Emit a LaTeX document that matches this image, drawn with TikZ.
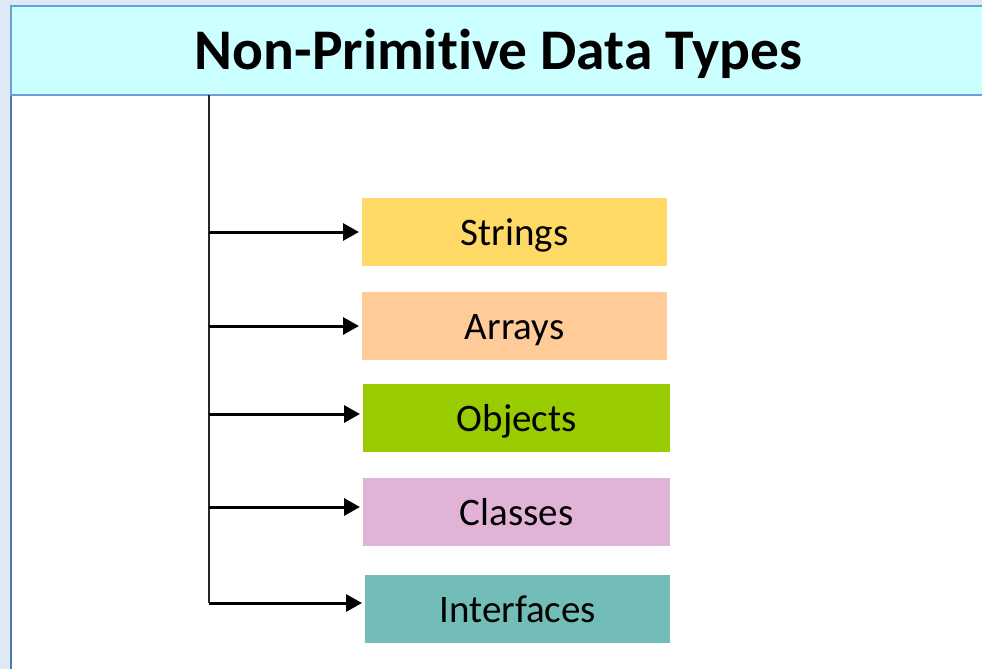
\documentclass[tikz,border=0pt]{standalone}
\usepackage{fontspec}
\setmainfont[Ligatures=NoCommon]{Carlito}
\usetikzlibrary{arrows.meta}
\definecolor{bgblue}{HTML}{DEE9F5}
\definecolor{edgeblue}{HTML}{4E79A8}
\definecolor{headfill}{HTML}{CCFFFF}
\definecolor{headedge}{HTML}{6A9FD8}
\definecolor{cstr}{HTML}{FFD966}
\definecolor{carr}{HTML}{FFCC99}
\definecolor{cobj}{HTML}{99CC00}
\definecolor{ccls}{HTML}{E1B3D6}
\definecolor{cint}{HTML}{73BDB9}
\tikzset{
  typebox/.style={draw=none, minimum height=68pt, inner sep=0pt, anchor=north west,
    text height=26.4pt, text depth=0pt,
    font=\fontsize{39}{44}\selectfont},
  arr/.style={line width=3pt, -{Triangle[length=16pt,width=17pt]}, shorten >=3pt},
  trunk/.style={line width=2pt, black!85}
}
\begin{document}
\begin{tikzpicture}[x=1pt,y=-1pt]
\useasboundingbox (0,0) rectangle (982,669);
\fill[bgblue] (0,0) rectangle (982,669);
\fill[white] (11,95) rectangle (982,669);
\draw[edgeblue, line width=2pt] (11,95) -- (11,669);
\node[draw=headedge, fill=headfill, line width=2pt, minimum width=975pt, minimum height=89pt,
  inner sep=0pt, anchor=north west, text height=40pt, text depth=2.4pt,
  font=\fontsize{57.5}{62}\selectfont\bfseries] (head) at (10,5) {Non-Primitive Data Types};
\node[typebox, fill=cstr, minimum width=305pt] (s) at (362,198) {Strings};
\node[typebox, fill=carr, minimum width=305pt] (a) at (362,292) {Arrays};
\node[typebox, fill=cobj, minimum width=307pt] (o) at (363,384) {Objects};
\node[typebox, fill=ccls, minimum width=307pt] (c) at (363,478) {Classes};
\node[typebox, fill=cint, minimum width=305pt] (i) at (365,575) {Interfaces};
\coordinate (ttop) at (209,95);
\coordinate (t1) at (209,232);
\coordinate (t2) at (209,326);
\coordinate (t3) at (209,414);
\coordinate (t4) at (209,507);
\coordinate (t5) at (209,603);
\draw[trunk] (ttop) -- (t5);
\draw[arr] (t1) -- (t1 -| s.west);
\draw[arr] (t2) -- (t2 -| a.west);
\draw[arr] (t3) -- (t3 -| o.west);
\draw[arr] (t4) -- (t4 -| c.west);
\draw[arr] (t5) -- (t5 -| i.west);
\end{tikzpicture}
\end{document}
